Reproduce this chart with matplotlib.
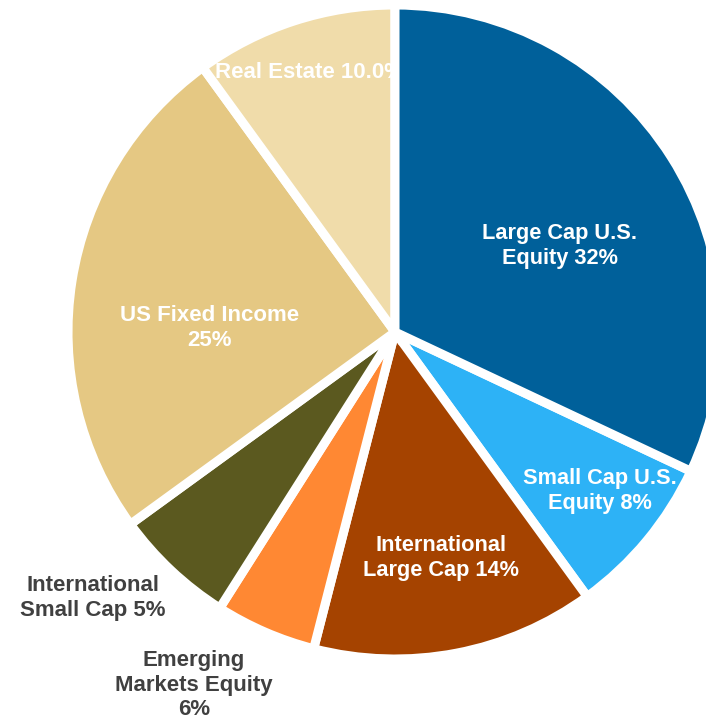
import matplotlib.pyplot as plt

plt.rcParams['font.family'] = ['Liberation Sans', 'DejaVu Sans']

# slices clockwise from 12 o'clock
names = ['Large Cap U.S. Equity', 'Small Cap U.S. Equity', 'International Large Cap',
         'Emerging Markets Equity', 'International Small Cap', 'US Fixed Income', 'Real Estate']
shares = [32, 8, 14, 5, 6, 25, 10]
colors = ['#00609A', '#2DB2F6', '#A54300', '#FF8833', '#5B591F', '#E5C883', '#F0DCAA']

labels = ['Large Cap U.S.\nEquity 32%', 'Small Cap U.S.\nEquity 8%', 'International\nLarge Cap 14%',
          'Emerging\nMarkets Equity\n6%', 'International\nSmall Cap 5%', 'US Fixed Income\n25%',
          'Real Estate 10.0%']

W, H = 706, 719
fig = plt.figure(figsize=(W / 100, H / 100), dpi=100)
ax = fig.add_axes([0, 0, 1, 1])

cx, cy, r = 395, H - 332, 327
wedges, _ = ax.pie(shares, colors=colors, startangle=90, counterclock=False,
                   center=(cx, cy), radius=r, frame=True,
                   wedgeprops=dict(edgecolor='white', linewidth=6.5))
wedges[0].set_zorder(3)

ax.set_xlim(0, W)
ax.set_ylim(0, H)
ax.set_aspect('equal')
ax.axis('off')

white = dict(color='white', fontweight='bold', ha='center', va='center', linespacing=1.2, zorder=4)
dark = dict(color='#404040', fontweight='bold', ha='center', va='center', linespacing=1.22, zorder=4)

ax.text(560, H - 246, labels[0], fontsize=15.7, **white)
ax.text(600, H - 491, labels[1], fontsize=15.7, **white)
ax.text(441, H - 558, labels[2], fontsize=15.7, **white)
ax.text(210, H - 328, labels[5], fontsize=16, **white)
ax.text(215, H - 72, labels[6], fontsize=16, color='white', fontweight='bold',
        ha='left', va='center', zorder=2)

ax.text(194, H - 685, labels[3], fontsize=16, **dark)
ax.text(93, H - 598, labels[4], fontsize=16, **dark)

fig.savefig('out.png', dpi=100)
